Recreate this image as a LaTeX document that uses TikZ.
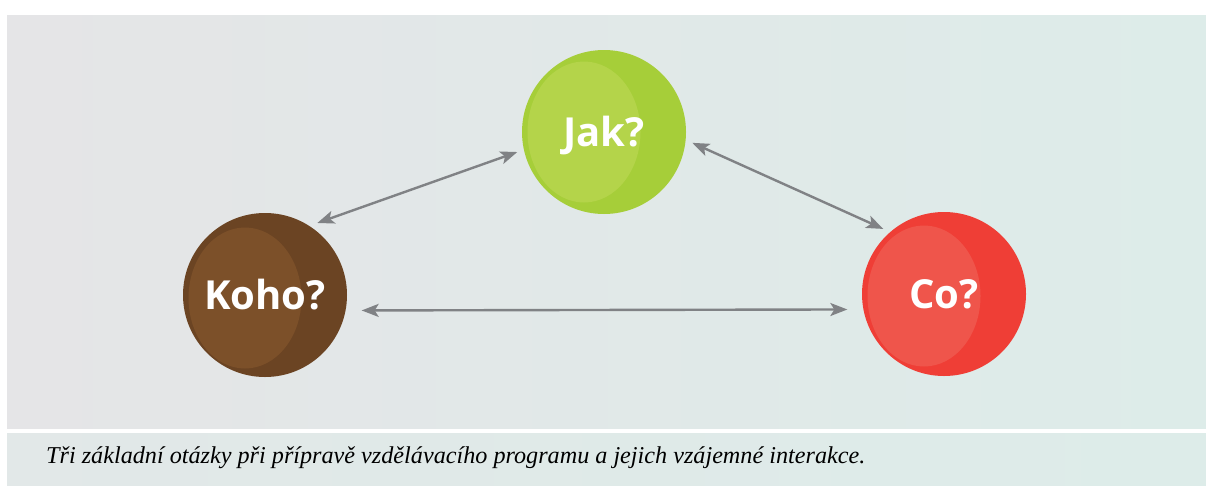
\documentclass[tikz,border=0pt]{standalone}
\usepackage{fontspec}
\setmainfont{Liberation Serif}
\newfontfamily\ballfont{Open Sans}
\newfontfamily\capfont{Liberation Serif}
\usetikzlibrary{arrows.meta}
\definecolor{bgL}{RGB}{229,229,231}
\definecolor{bgR}{RGB}{221,236,233}
\definecolor{jakO}{RGB}{166,206,57}
\definecolor{jakI}{RGB}{180,212,74}
\definecolor{kohoO}{RGB}{107,68,35}
\definecolor{kohoI}{RGB}{124,80,41}
\definecolor{coO}{RGB}{239,62,54}
\definecolor{coI}{RGB}{239,85,75}
\definecolor{arrgray}{RGB}{128,130,133}
\tikzset{
  ball/.style={circle, minimum size=164pt, inner sep=0pt, outer sep=7pt,
    text=white, font=\ballfont\bfseries\fontsize{40}{40}\selectfont,
    text height=28pt, text depth=0pt},
  inner/.style 2 args={path picture={\fill[#1] ([xshift=-20pt,yshift=#2]path picture bounding box.center) ellipse [x radius=56.5pt, y radius=70.5pt];}},
  arr/.style={draw=arrgray, line width=2.4pt, {Stealth[length=17pt,width=13pt,inset=4pt]}-{Stealth[length=17pt,width=13pt,inset=4pt]}}
}
\begin{document}
\begin{tikzpicture}[x=1pt,y=-1pt]
\useasboundingbox (0,0) rectangle (1206,485);
\shade[left color=bgL, right color=bgR] (7,15) rectangle (1206,428);
\shade[left color=bgL!60!bgR, right color=bgR] (7,433) rectangle (1206,485);
\node[ball, fill=jakO, inner={jakI}{0pt}] (jak) at (604,132) {Jak?};
\node[ball, fill=kohoO, inner={kohoI}{-3pt}] (koho) at (265,295) {Koho?};
\node[ball, fill=coO, inner={coI}{-2pt}] (co) at (944,294) {Co?};
\draw[arr] (koho.54) -- (jak.193);
\draw[arr] (jak.-7.5) -- (co.133);
\draw[arr, shorten <=9pt, shorten >=9pt] (koho.-10.2) -- (co.190.3);
\node[anchor=base west, inner sep=0pt] (cap) at (46,463)
  {\resizebox{819pt}{!}{\capfont\itshape Tři základní otázky při přípravě vzdělávacího programu a jejich vzájemné interakce.}};
\end{tikzpicture}
\end{document}
